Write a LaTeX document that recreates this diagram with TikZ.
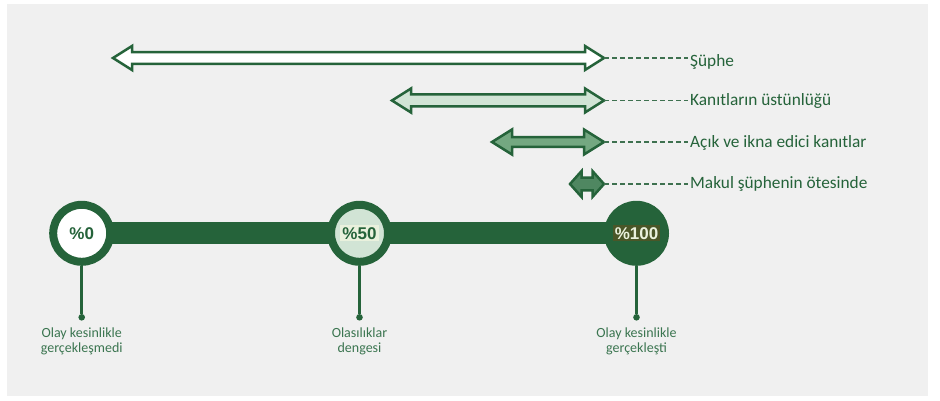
\documentclass[tikz,border=0pt]{standalone}
\usepackage{fontspec}
\setmainfont{Carlito}
\newfontfamily\pctfont{Liberation Sans}
\usetikzlibrary{positioning}
\definecolor{panelgray}{HTML}{F0F0F0}
\definecolor{scalegreen}{HTML}{25633A}
\definecolor{palegreen}{HTML}{D1E4D5}
\definecolor{midgreen}{HTML}{74A881}
\definecolor{deepgreen}{HTML}{4F8761}
\definecolor{labelgreen}{HTML}{3B7550}
\definecolor{leadergreen}{HTML}{3E7150}
\definecolor{olivebox}{HTML}{4A5628}
\definecolor{creambox}{HTML}{E9F1DD}
\tikzset{
	burden/.cd,
	range/.style = {
		draw = scalegreen,
		line width = 2.5pt,
		line join = miter
	},
	leader/.style = {
		draw = leadergreen,
		line width = 1.1pt,
		dash pattern = on 5pt off 3pt
	},
	level/.style = {
		anchor = base west,
		inner sep = 2pt,
		text = scalegreen,
		font = \fontsize{17.3}{20}\selectfont
	},
}

\begin{document}
\begin{tikzpicture}[x = 1pt, y = -1pt,
		mark circle/.style = {
			circle,
			minimum size = 57pt,
			line width = 8pt,
			draw = scalegreen
		},
		pct/.style = {
			inner sep = 2pt,
			font = \pctfont\bfseries\fontsize{17}{20}\selectfont
		},
		endpoint/.style = {
			circle,
			fill = scalegreen,
			inner sep = 0,
			minimum size = 6.6pt
		},
		outcome/.style = {
			anchor = north,
			align = center,
			inner sep = 0,
			text = labelgreen,
			font = \fontsize{14}{14.5}\selectfont
		}]
		\useasboundingbox (0, 0) rectangle (940, 401);
		\fill[white] (0, 0) rectangle (940, 401);
		\fill[panelgray] (7, 4) rectangle (928, 396);

		% standards of proof
		\foreach \name/\xl/\yy/\hl/\hh/\sh/\col in {
				doubt/113/58/19/12/5.8/white,
				prep/392/100.5/19/12/6/palegreen,
				clear/492/142/20/12.5/4.8/midgreen,
				reasonable/570/184/11.5/12.9/6.3/deepgreen} {
			\draw[burden/range, fill = \col]
				(\xl, \yy) -- ++(\hl, -\hh) -- ++(0, \hh - \sh)
				-- (604 - \hl, \yy - \sh) -- ++(0, \sh - \hh) -- (604, \yy)
				-- ++(-\hl, \hh) -- ++(0, \sh - \hh)
				-- (\xl + \hl, \yy + \sh) -- ++(0, \hh - \sh) -- cycle;
			\coordinate (\name) at (604, \yy);
		}

		\node[burden/level] (doubt label) at (688, 66.5) {Şüphe};
		\node[burden/level] (prep label) at (688, 106) {Kanıtların üstünlüğü};
		\node[burden/level] (clear label) at (688, 147.5) {Açık ve ikna edici kanıtlar};
		\node[burden/level] (reasonable label) at (688, 189) {Makul şüphenin ötesinde};
		\foreach \name in {doubt, prep, clear, reasonable}
			\draw[burden/leader] (\name) -- (\name -| \name\space label.west);

		% probability scale
		\coordinate (c0) at (81.7, 233.3);
		\coordinate (c50) at (359.5, 233.3);
		\coordinate (c100) at (636.5, 233.3);
		\draw[scalegreen, line width = 22pt] (c0) -- (c100);

		\node[mark circle, fill = white] (p0) at (c0) {};
		\node[mark circle, fill = palegreen] (p50) at (c50) {};
		\node[mark circle, fill = scalegreen] (p100) at (c100) {};
		\node[pct, text = scalegreen] (t0) at (p0) {\%0};
		\node[pct, fill = creambox, text = scalegreen] (t50) at (p50) {\%50};
		\node[pct, fill = olivebox, text = creambox] (t100) at (p100) {\%100};

		\node[endpoint] (d0) at (81.7, 317.3) {};
		\node[endpoint] (d50) at (359.5, 317.3) {};
		\node[endpoint] (d100) at (636.5, 317.3) {};
		\foreach \i in {0, 50, 100}
			\draw[scalegreen, line width = 2.5pt] (p\i.south) -- (d\i);

		\node[outcome] (o0) at (81.7, 328) {Olay kesinlikle\\gerçekleşmedi};
		\node[outcome] (o50) at (359.5, 328) {Olasılıklar\\dengesi};
		\node[outcome] (o100) at (636.5, 328) {Olay kesinlikle\\gerçekleşti};
	\end{tikzpicture}
\end{document}
